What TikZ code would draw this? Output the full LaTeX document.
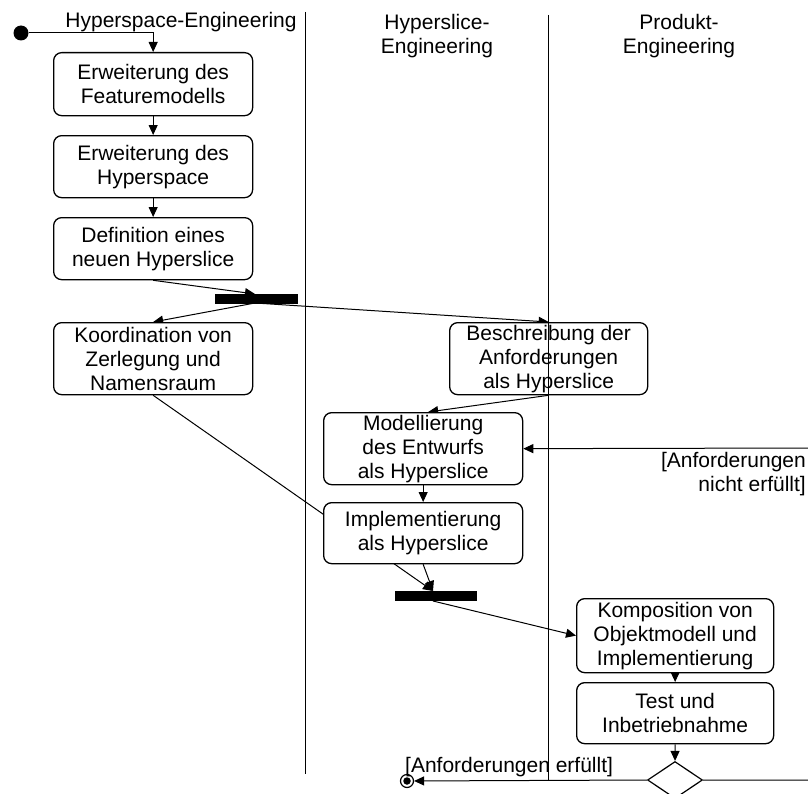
\documentclass[tikz,border=0pt]{standalone}
\usepackage{fontspec}
\setmainfont{Liberation Sans}
\usetikzlibrary{arrows.meta,shapes.geometric,backgrounds}

\begin{document}
\begin{tikzpicture}[x=1bp,y=-1bp,
  font=\fontsize{21bp}{24bp}\selectfont,
  activity/.style={draw, line width=1.3bp, rounded corners=8bp, fill=white,
    minimum width=199bp, inner sep=0pt, align=center, anchor=north west},
  syncbar/.style={fill=black, inner sep=0pt, minimum width=83bp, minimum height=10bp},
  flow/.style={line width=1bp, -{Triangle[length=10bp,width=9bp]}},
  lane/.style={line width=1bp},
  lbl/.style={inner sep=0pt}
]
% canvas
\useasboundingbox (0,0) rectangle (808,794);
\clip (0,0) rectangle (808,794);
\begin{scope}[on background layer]
  \fill[white] (0,0) rectangle (808,794);
\end{scope}

% swimlane headings
\node[lbl, anchor=base] (h1) at (181,28) {Hyperspace-Engineering};
\node[lbl, align=center, anchor=north] (h2) at (437,14.5) {Hyperslice-\\Engineering};
\node[lbl, align=center, anchor=north] (h3) at (679,14.5) {Produkt-\\Engineering};

% start and end states
\node[circle, fill=black, inner sep=0pt, minimum size=15bp] (start) at (21,33) {};
\node[circle, draw, line width=1.2bp, fill=white, inner sep=0pt, minimum size=13bp] (final) at (407,781) {};
\node[circle, fill=black, inner sep=0pt, minimum size=7.5bp] (finaldot) at (final.center) {};

% activities
\node[activity, minimum height=63bp] (b1) at (53,52) {Erweiterung des\\Featuremodells};
\node[activity, minimum height=62bp] (b2) at (53,135) {Erweiterung des\\Hyperspace};
\node[activity, minimum height=62bp] (b3) at (53,217) {Definition eines\\neuen Hyperslice};
\node[activity, minimum height=72bp] (koord) at (53,322) {Koordination von\\Zerlegung und\\Namensraum};
\node[activity, minimum height=72bp, minimum width=198bp] (besch) at (449,322) {Beschreibung der\\Anforderungen\\als Hyperslice};
\node[activity, minimum height=72bp] (model) at (323,412) {Modellierung\\des Entwurfs\\als Hyperslice};
\node[activity, minimum height=61bp] (impl) at (323,502) {Implementierung\\als Hyperslice};
\node[activity, minimum height=74bp, minimum width=197bp] (komp) at (576,598) {Komposition von\\Objektmodell und\\Implementierung};
\node[activity, minimum height=61bp, minimum width=197bp] (test) at (576,682) {Test und\\Inbetriebnahme};

% fork/join bars and decision
\node[syncbar] (bar1) at (256.5,299) {};
\node[syncbar, minimum width=82bp] (bar2) at (436,596) {};
\node[diamond, draw, line width=1.2bp, fill=white, inner sep=0pt,
  minimum width=55bp, minimum height=37bp] (dec) at (675,780) {};

% points on the bars and on the return loop
\coordinate (j1in)  at (255,294);
\coordinate (j1out) at (255,303);
\coordinate (j2in)  at (433,591);
\coordinate (j2out) at (433,601);
\coordinate (loopS) at (814,780);
\coordinate (loopN) at (814,448);

% guards
\node[lbl, anchor=base west] (okl) at (405,772) {[Anforderungen erfüllt]};
\node[lbl, align=right, anchor=north east] (nokl) at (806,452) {[Anforderungen\\nicht erfüllt]};

% control flow
\begin{scope}[on background layer]
  \draw[flow] (start) -| (b1);
  \draw[flow] (b1) -- (b2);
  \draw[flow] (b2) -- (b3);
  \draw[flow] (b3.south) -- (j1in);
  \draw[flow] (j1out) -- (koord.north);
  \draw[flow] (j1out) -- (besch.north);
  \draw[flow] (besch.south) -- ([xshift=5bp]model.north);
  \draw[flow] (model) -- (impl);
  \draw[flow] (koord.south) -- (j2in);
  \draw[flow] (impl.south) -- (j2in);
  \draw[flow] (j2out) -- (komp.west);
  \draw[flow] (komp) -- (test);
  \draw[flow] (test) -- (dec);
  \draw[flow] (dec.west) -- (final);
  \draw[flow] (dec.east) -- (loopS) -- (loopN) -- (model.east);
\end{scope}

% swimlane separators
\draw[lane] (305,12) -- (305,774);
\draw[lane] (548,15) -- (548,780);
\end{tikzpicture}
\end{document}
